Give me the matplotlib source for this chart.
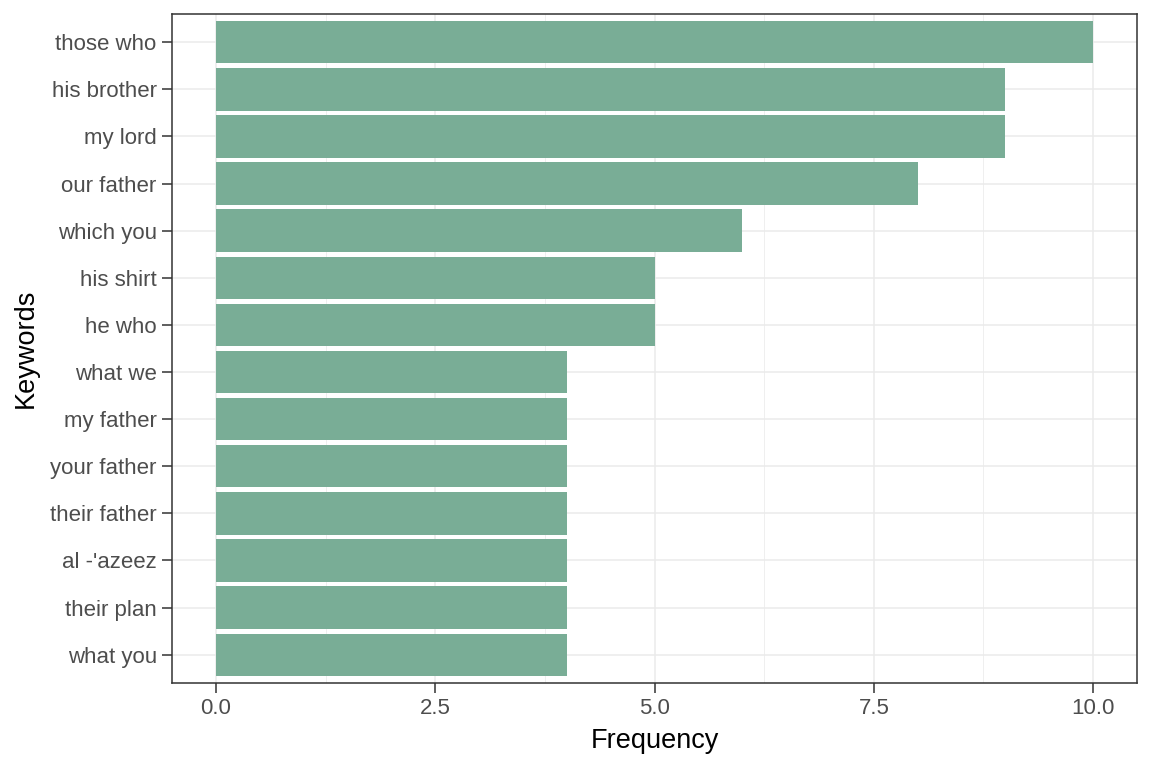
import numpy as np
import matplotlib.pyplot as plt
from matplotlib.ticker import MultipleLocator

plt.rcParams['font.family'] = ['Liberation Sans', 'DejaVu Sans']

# keywords, listed top to bottom
keywords = ["those who", "his brother", "my lord", "our father", "which you",
            "his shirt", "he who", "what we", "my father", "your father",
            "their father", "al -'azeez", "their plan", "what you"]
freq = [10, 9, 9, 8, 6, 5, 5, 4, 4, 4, 4, 4, 4, 4]

fig = plt.figure(figsize=(11.52, 7.68), dpi=100)
ax = fig.add_axes([0.1493, 0.1107, 0.9870 - 0.1493, 0.9818 - 0.1107])

n = len(keywords)
ypos = np.arange(n)[::-1] + 1  # top label at highest position
ax.barh(ypos, freq, height=0.9, color='#79AD96', zorder=3)

ax.set_xlim(-0.5, 10.5)
ax.set_ylim(0.4, n + 0.6)
ax.set_yticks(ypos)
ax.set_yticklabels(keywords)
ax.set_xticks([0, 2.5, 5, 7.5, 10])
ax.set_xticklabels(["0.0", "2.5", "5.0", "7.5", "10.0"])
ax.xaxis.set_minor_locator(MultipleLocator(1.25))

ax.grid(True, which='major', color='#EBEBEB', linewidth=1.1, zorder=0)
ax.grid(True, which='minor', axis='x', color='#EBEBEB', linewidth=0.55, zorder=0)
ax.tick_params(which='minor', length=0)
ax.tick_params(which='major', length=7, width=1.1, color='#333333',
               labelsize=16, labelcolor='#4D4D4D', pad=4)
for s in ax.spines.values():
    s.set_color('#333333')
    s.set_linewidth(1.1)

ax.set_xlabel("Frequency", fontsize=19.5, color='black', labelpad=6)
ax.set_ylabel("Keywords", fontsize=19.5, color='black', labelpad=8)

fig.savefig("out.png", dpi=100)
